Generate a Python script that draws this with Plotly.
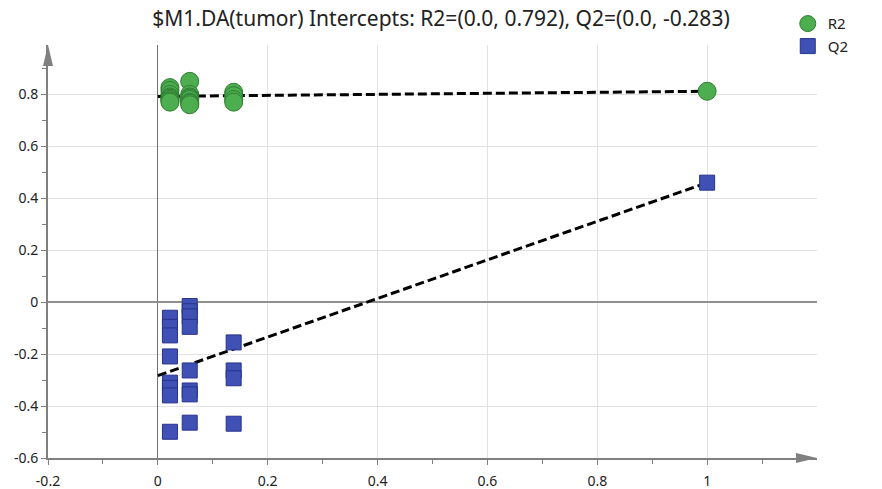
import plotly.graph_objects as go

# Permutation test results: correlation of permuted Y with original Y
perm_corr = [0.022] * 8 + [0.058] * 8 + [0.138] * 4
r2_perm = [0.826, 0.815, 0.80, 0.79, 0.785, 0.78, 0.775, 0.77,
           0.85, 0.80, 0.79, 0.785, 0.78, 0.77, 0.765, 0.76,
           0.808, 0.795, 0.78, 0.77]
q2_perm = [-0.06, -0.095, -0.128, -0.209, -0.31, -0.33, -0.359, -0.499,
           -0.015, -0.035, -0.055, -0.095, -0.263, -0.34, -0.355, -0.464,
           -0.155, -0.263, -0.293, -0.468]

# Original (unpermuted) model
orig_corr = 1.0
r2_orig = 0.812
q2_orig = 0.46

# Regression intercepts
r2_intercept = 0.792
q2_intercept = -0.283

x_ticks = [-0.2, 0, 0.2, 0.4, 0.6, 0.8, 1]
x_minor = [-0.1, 0.1, 0.3, 0.5, 0.7, 0.9, 1.1]
y_ticks = [-0.6, -0.4, -0.2, 0, 0.2, 0.4, 0.6, 0.8]
y_minor = [-0.5, -0.3, -0.1, 0.1, 0.3, 0.5, 0.7, 0.9]
x_range = [-0.2, 1.2]
y_range = [-0.6, 0.99]

green = "#4cae4f"
green_line = "#2f7d32"
blue = "#3f51b5"
blue_line = "#27338a"
axis_grey = "#808080"

fig = go.Figure()

# Intercept lines
for y0, y1 in [(r2_intercept, r2_orig), (q2_intercept, q2_orig)]:
    fig.add_trace(go.Scatter(x=[0, orig_corr], y=[y0, y1], mode="lines",
                             line=dict(color="black", width=3, dash="9px,4px"),
                             showlegend=False, hoverinfo="skip"))

fig.add_trace(go.Scatter(x=perm_corr + [orig_corr], y=r2_perm + [r2_orig], mode="markers",
                         name="R2",
                         marker=dict(symbol="circle", size=18, color=green,
                                     line=dict(color=green_line, width=1))))
fig.add_trace(go.Scatter(x=perm_corr + [orig_corr], y=q2_perm + [q2_orig], mode="markers",
                         name="Q2",
                         marker=dict(symbol="square", size=15, color=blue,
                                     line=dict(color=blue_line, width=1))))

# Arrowheads at the axis ends (anchored to the plot-area corners)
arrow_shapes = [
    dict(type="path", xref="paper", yref="paper", xsizemode="pixel", ysizemode="pixel",
         xanchor=1, yanchor=0,
         path="M -21 -5 L 0 0 L -21 5 Z", fillcolor=axis_grey, line=dict(width=0),
         layer="above"),
    dict(type="path", xref="paper", yref="paper", xsizemode="pixel", ysizemode="pixel",
         xanchor=0, yanchor=1,
         path="M -5 -21 L 0 0 L 5 -21 Z", fillcolor=axis_grey, line=dict(width=0),
         layer="above"),
]

fig.update_layout(
    width=882, height=489,
    margin=dict(l=48, r=65, t=45, b=31, autoexpand=False),
    paper_bgcolor="white", plot_bgcolor="white",
    font=dict(family="Noto Sans", size=14, color="#222222"),
    shapes=arrow_shapes,
    title=dict(text="$M1.DA(tumor) Intercepts: R2=(0.0, 0.792), Q2=(0.0, -0.283)",
               x=0.5, xref="container", xanchor="center",
               y=0.962, yref="container", yanchor="middle",
               font=dict(family="Noto Sans", size=21, color="#222222")),
    legend=dict(x=0.968, xref="container", xanchor="right", y=0.985, yref="container",
                yanchor="top", bgcolor="rgba(0,0,0,0)", font=dict(size=15),
                itemsizing="trace", tracegroupgap=0),
    xaxis=dict(range=x_range, tickvals=x_ticks, ticktext=[str(v) for v in x_ticks],
               showgrid=True, gridcolor="#e2e2e2", gridwidth=1,
               zeroline=True, zerolinecolor="#707070", zerolinewidth=1,
               showline=True, linecolor=axis_grey, linewidth=2,
               ticks="outside", ticklen=5, tickcolor=axis_grey,
               ticklabelstandoff=4,
               minor=dict(tickvals=x_minor, ticks="outside", ticklen=4, tickcolor=axis_grey,
                          showgrid=False),
               fixedrange=True),
    yaxis=dict(range=y_range, tickvals=y_ticks, ticktext=[str(v) for v in y_ticks],
               showgrid=True, gridcolor="#e2e2e2", gridwidth=1,
               zeroline=True, zerolinecolor="#909090", zerolinewidth=1.5,
               showline=True, linecolor=axis_grey, linewidth=2,
               ticks="outside", ticklen=5, tickcolor=axis_grey,
               minor=dict(tickvals=y_minor, ticks="outside", ticklen=4, tickcolor=axis_grey,
                          showgrid=False),
               fixedrange=True),
)

fig.write_html("out.html")
